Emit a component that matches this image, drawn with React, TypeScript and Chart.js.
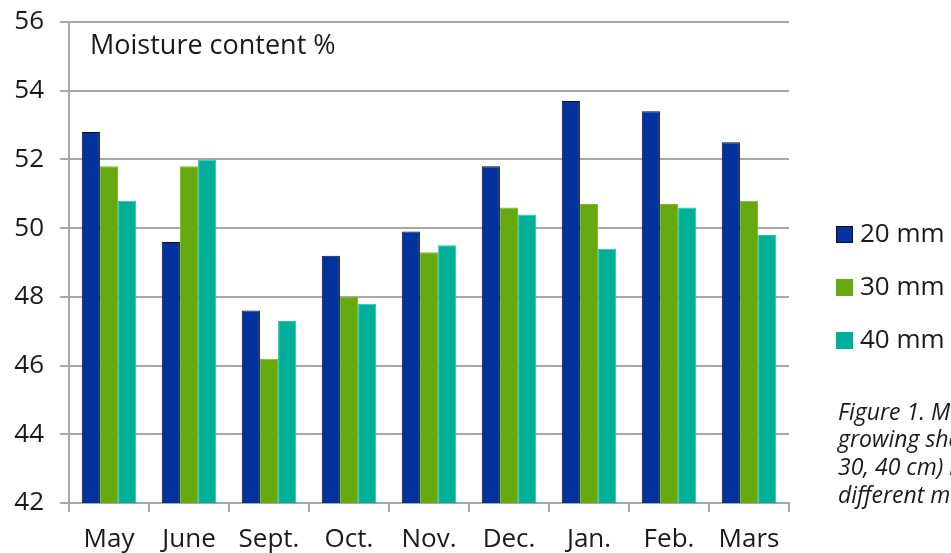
import React, { useEffect, useRef } from "react";
import { Chart, registerables } from "chart.js";

Chart.register(...registerables);

const months = ["May", "June", "Sept.", "Oct.", "Nov.", "Dec.", "Jan.", "Feb.", "Mars"];
const mm20 = [52.8, 49.6, 47.6, 49.2, 49.9, 51.8, 53.7, 53.4, 52.5];
const mm30 = [51.8, 51.8, 46.2, 48.0, 49.3, 50.6, 50.7, 50.7, 50.8];
const mm40 = [50.8, 52.0, 47.3, 47.8, 49.5, 50.4, 49.4, 50.6, 49.8];
const seriesNames = ["20 mm", "30 mm", "40 mm"];
const chartTitle = "Moisture content %";
const captionLines = [
  "Figure 1. Moisture content of",
  "growing shavings at depths (20,",
  "30, 40 cm) measured during",
  "different months.",
];

const FONT = "'Open Sans', 'Noto Sans', sans-serif";
const TEXT = "#1a1a1a";
const GRID = "#a8a8a8";

const fills = ["#0033a0", "#66a80f", "#00af9b"];
const edges = ["#111111", "#7dbb2a", "#2cc2ad"];

const overlay = {
  id: "overlay",
  afterDraw(chart: any) {
    const ctx = chart.ctx;
    const area = chart.chartArea;
    ctx.save();
    ctx.fillStyle = TEXT;
    ctx.textBaseline = "middle";
    ctx.textAlign = "left";
    ctx.font = `27px ${FONT}`;
    ctx.fillText(chartTitle, area.left + 21, 46);

    const lx = 836;
    const ys = [234.5, 287.5, 340.5];
    chart.data.datasets.forEach((ds: any, i: number) => {
      const y = ys[i];
      ctx.fillStyle = ds.backgroundColor;
      ctx.fillRect(lx, y - 8.5, 17, 17);
      if (i === 0) {
        ctx.strokeStyle = "#111";
        ctx.lineWidth = 1;
        ctx.strokeRect(lx + 0.5, y - 8, 16, 16);
      }
      ctx.fillStyle = TEXT;
      ctx.font = `26px ${FONT}`;
      ctx.fillText(ds.label, lx + 24, y);
    });

    ctx.font = `italic 23px ${FONT}`;
    captionLines.forEach((t, i) => {
      ctx.fillText(t, 838, 413 + i * 27.7);
    });
    ctx.restore();
  },
};

export default function App() {
  const ref = useRef<HTMLCanvasElement>(null);
  useEffect(() => {
    if (!ref.current) return;
    const series = [mm20, mm30, mm40];
    const chart = new Chart(ref.current, {
      type: "bar",
      data: {
        labels: months,
        datasets: series.map((d, i) => ({
          label: seriesNames[i],
          data: d,
          backgroundColor: fills[i],
          borderColor: edges[i],
          borderWidth: 1,
          barPercentage: 1,
          categoryPercentage: 0.68,
        })),
      },
      options: {
        responsive: false,
        animation: false,
        devicePixelRatio: 1,
        layout: { padding: { top: 22, right: 162, left: 0, bottom: 0 } },
        plugins: {
          legend: { display: false },
          tooltip: { enabled: false },
          title: { display: false },
        },
        scales: {
          x: {
            afterFit: (s: any) => {
              s.height = 50;
              s.paddingLeft = 0;
              s.paddingRight = 0;
            },
            grid: {
              drawOnChartArea: false,
              drawTicks: true,
              tickLength: 9,
              color: GRID,
              lineWidth: 2,
            },
            border: { color: GRID, width: 2 },
            ticks: {
              color: TEXT,
              font: { family: FONT, size: 26 },
              padding: 12,
              maxRotation: 0,
            },
          },
          y: {
            min: 42,
            max: 56,
            afterFit: (s: any) => {
              s.width = 69;
              s.paddingTop = 0;
              s.paddingBottom = 0;
            },
            grid: {
              color: GRID,
              lineWidth: 2,
              tickLength: 9,
            },
            border: { color: GRID, width: 2 },
            ticks: {
              stepSize: 2,
              color: TEXT,
              font: { family: FONT, size: 26 },
              padding: 16,
            },
          },
        },
      },
      plugins: [overlay],
    });
    return () => chart.destroy();
  }, []);
  return (
    <div style={{ position: "absolute", left: 0, top: 0, width: 951, height: 553, background: "#fff" }}>
      <canvas ref={ref} width={951} height={553} />
    </div>
  );
}
